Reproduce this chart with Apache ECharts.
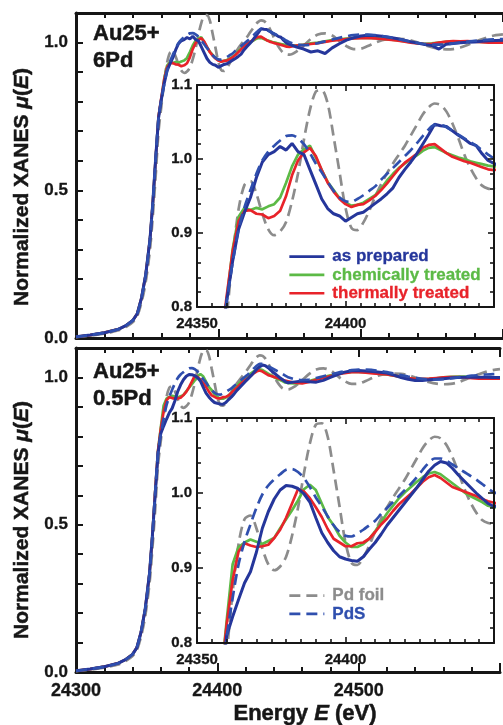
<!DOCTYPE html>
<html>
<head>
<meta charset="utf-8">
<script src="https://cdn.jsdelivr.net/npm/echarts@6/dist/echarts.min.js"></script>
<style>
  html, body { margin: 0; padding: 0; background: #fff; }
  #chart { width: 503px; height: 725px; }
</style>
</head>
<body>
<div id="chart"></div>
<script>
// Photon energy grid (eV) shared by every spectrum
const energy = [
  24300,24310,24320,24330,24335,24340,24343,24346,24349,24352,24354,24356,
  24358,24360,24362,24364,24366,24368,24370,24372,24374,24376,24378,24380,
  24382,24384,24386,24388,24390,24392,24394,24396,24398,24400,24402,24404,
  24406,24408,24410,24412,24414,24416,24418,24420,24422,24424,24426,24428,
  24430,24432,24434,24436,24438,24440,24442,24444,24446,24448,24450,
  24455,24460,24465,24470,24475,24480,24485,24490,24495,24500,24505,24510,
  24515,24520,24525,24530,24535,24540,24545,24550,24555,24560,24565,24570,
  24575,24580,24585,24590,24595,24600
];

// Reference spectra
const pdFoil = [
  0.003,0.008,0.015,0.026,0.037,0.054,0.074,0.120,0.190,0.300,0.415,0.550,
  0.700,0.785,0.868,0.932,0.965,0.970,0.953,0.926,0.905,0.897,0.902,0.915,
  0.943,0.980,1.026,1.066,1.091,1.093,1.075,1.030,0.982,0.934,0.907,0.904,
  0.914,0.930,0.949,0.966,0.981,0.994,1.006,1.018,1.032,1.046,1.060,1.070,
  1.075,1.073,1.064,1.048,1.028,1.006,0.988,0.974,0.964,0.960,0.959,
  0.970,0.990,1.012,1.027,1.031,1.024,1.005,0.988,0.978,0.979,0.988,0.999,
  1.008,1.012,1.013,1.012,1.008,1.000,0.991,0.984,0.979,0.977,0.978,0.983,
  0.992,1.002,1.011,1.019,1.025,1.028
];
const pdS = [
  0.004,0.010,0.018,0.030,0.042,0.060,0.082,0.135,0.215,0.335,0.460,0.610,
  0.745,0.808,0.860,0.905,0.935,0.958,0.980,0.998,1.010,1.018,1.025,1.031,
  1.032,1.028,1.020,1.008,0.994,0.982,0.969,0.957,0.948,0.943,0.942,0.946,
  0.951,0.957,0.963,0.972,0.980,0.988,0.996,1.004,1.012,1.021,1.031,1.040,
  1.046,1.046,1.043,1.038,1.033,1.028,1.023,1.018,1.012,1.006,1.001,
  0.994,0.991,0.993,0.998,1.004,1.010,1.016,1.021,1.025,1.027,1.027,1.025,
  1.022,1.018,1.013,1.008,1.003,0.999,0.995,0.993,0.993,0.994,0.997,1.000,
  1.003,1.006,1.008,1.010,1.011,1.012
];

// Au25 + 6Pd
const pd6Prepared = [
  0.004,0.010,0.018,0.030,0.042,0.060,0.082,0.135,0.215,0.335,0.460,0.610,
  0.745,0.808,0.862,0.905,0.928,0.948,0.975,0.996,1.006,1.010,1.017,1.012,
  1.021,1.010,1.006,0.986,0.966,0.946,0.933,0.926,0.923,0.916,0.921,0.926,
  0.928,0.934,0.940,0.946,0.953,0.961,0.975,0.986,0.996,1.007,1.020,1.033,
  1.047,1.045,1.044,1.038,1.032,1.027,1.021,1.018,1.007,0.998,0.994,
  0.985,0.978,0.968,0.972,0.963,0.982,0.996,1.008,1.016,1.022,1.025,1.024,
  1.021,1.018,1.014,1.009,1.003,0.998,0.993,0.990,0.978,0.994,0.997,0.999,
  1.001,1.002,1.004,1.006,1.007,1.008
];
const pd6Chemical = [
  0.004,0.010,0.018,0.030,0.042,0.060,0.082,0.135,0.215,0.335,0.460,0.610,
  0.750,0.810,0.878,0.922,0.934,0.931,0.934,0.932,0.936,0.939,0.948,0.968,
  0.990,1.006,1.013,1.018,1.002,0.985,0.969,0.958,0.947,0.941,0.937,0.938,
  0.941,0.946,0.951,0.960,0.971,0.980,0.988,0.994,1.000,1.005,1.011,1.015,
  1.016,1.012,1.008,1.005,1.002,1.000,0.997,0.995,0.993,0.991,0.990,
  0.990,0.993,0.997,1.000,1.004,1.008,1.011,1.013,1.015,1.016,1.016,1.015,
  1.013,1.011,1.008,1.005,1.001,0.998,0.996,0.997,1.000,1.002,1.004,1.004,
  1.004,1.003,1.002,1.001,1.001,1.001
];
const pd6Thermal = [
  0.004,0.010,0.018,0.030,0.042,0.060,0.082,0.135,0.215,0.335,0.460,0.610,
  0.750,0.815,0.875,0.916,0.930,0.931,0.926,0.925,0.920,0.923,0.930,0.950,
  0.978,0.998,1.009,1.015,1.004,0.985,0.968,0.956,0.946,0.939,0.935,0.938,
  0.939,0.944,0.950,0.958,0.967,0.977,0.987,0.995,1.001,1.007,1.015,1.019,
  1.020,1.014,1.008,1.003,1.000,0.997,0.995,0.992,0.989,0.986,0.985,
  0.990,0.992,0.995,0.998,1.002,1.006,1.009,1.012,1.014,1.015,1.016,1.014,
  1.012,1.010,1.007,1.004,1.000,0.997,0.995,0.996,1.000,1.003,1.005,1.004,
  1.005,1.003,1.001,1.000,1.000,1.000
];

// Au25 + 0.5Pd
const pd05Prepared = [
  0.004,0.010,0.018,0.030,0.042,0.060,0.082,0.135,0.215,0.335,0.460,0.600,
  0.740,0.810,0.835,0.858,0.880,0.895,0.921,0.953,0.975,0.992,1.004,1.010,
  1.009,1.006,0.999,0.988,0.967,0.947,0.934,0.923,0.915,0.912,0.910,0.909,
  0.915,0.925,0.934,0.945,0.957,0.967,0.977,0.987,0.997,1.007,1.018,1.029,
  1.037,1.042,1.040,1.033,1.024,1.016,1.008,1.000,0.993,0.986,0.982,
  0.985,0.988,0.985,0.984,0.990,1.000,1.010,1.018,1.023,1.024,1.022,1.020,
  1.018,1.015,1.008,1.000,0.994,0.990,0.990,0.992,0.994,0.996,0.998,1.000,
  1.001,1.001,1.001,1.001,1.000,1.000
];
const pd05Chemical = [
  0.004,0.010,0.018,0.030,0.042,0.060,0.082,0.135,0.215,0.335,0.460,0.610,
  0.750,0.830,0.905,0.928,0.934,0.938,0.935,0.932,0.936,0.940,0.953,0.965,
  0.977,0.990,1.005,1.011,1.004,0.986,0.968,0.957,0.943,0.934,0.928,0.928,
  0.932,0.939,0.949,0.961,0.973,0.983,0.993,1.001,1.008,1.015,1.021,1.026,
  1.028,1.025,1.019,1.013,1.007,1.001,0.996,0.992,0.988,0.983,0.981,
  0.980,0.982,0.988,0.995,1.001,1.007,1.012,1.016,1.019,1.019,1.018,1.016,
  1.013,1.010,1.006,1.002,0.998,0.995,0.994,0.995,0.997,1.000,1.002,1.003,
  1.003,1.002,1.000,0.999,0.999,0.999
];
const pd05Thermal = [
  0.004,0.010,0.018,0.030,0.042,0.060,0.082,0.135,0.215,0.335,0.460,0.610,
  0.750,0.825,0.884,0.922,0.933,0.930,0.928,0.929,0.931,0.940,0.951,0.967,
  0.986,1.005,1.002,0.993,0.981,0.968,0.952,0.939,0.934,0.929,0.929,0.933,
  0.934,0.939,0.948,0.958,0.966,0.976,0.985,0.992,0.999,1.007,1.015,1.021,
  1.024,1.020,1.014,1.008,1.005,1.002,0.999,0.996,0.992,0.989,0.987,
  0.982,0.980,0.985,0.992,0.998,1.005,1.010,1.015,1.018,1.018,1.016,1.014,
  1.012,1.010,1.006,1.002,0.998,0.995,0.995,0.996,0.998,1.000,1.001,1.001,
  1.000,0.998,0.996,0.996,0.996,0.996
];

const panels = [
  { label: ['Au25+', '6Pd'], prepared: pd6Prepared, chemical: pd6Chemical, thermal: pd6Thermal },
  { label: ['Au25+', '0.5Pd'], prepared: pd05Prepared, chemical: pd05Chemical, thermal: pd05Thermal }
];

const FONT = '"Liberation Sans", Arial, Helvetica, sans-serif';
const INK = '#161616';
const COLORS = {
  prepared: '#25369b',
  chemical: '#5cba46',
  thermal: '#e8232a',
  foil: '#8c8c8c',
  pds: '#2f4fae'
};

function pairs(values) {
  return energy.map((e, i) => [e, values[i]]);
}

// layout: main frame and inset for each panel
const layout = [
  { main: { left: 76, top: 13, width: 436, height: 325 },
    inset: { left: 197, top: 85, width: 297, height: 222 } },
  { main: { left: 76, top: 348, width: 436, height: 324 },
    inset: { left: 197, top: 418, width: 297, height: 225 } }
];

const grid = [];
const xAxis = [];
const yAxis = [];
const series = [];

function labelFont(size) {
  return { fontSize: size, fontWeight: 'bold', color: INK, fontFamily: FONT,
           textBorderColor: INK, textBorderWidth: 0.3 };
}

layout.forEach((lay, p) => {
  const mainGrid = grid.length;
  grid.push(Object.assign({}, lay.main));
  const insetGrid = grid.length;
  grid.push(Object.assign({ show: true, backgroundColor: '#fff', borderWidth: 0, z: 3 }, lay.inset));

  const isBottom = p === layout.length - 1;

  // main energy axes (bottom with labels on the lower panel, top with ticks only)
  const mainX = xAxis.length;
  ['bottom', 'top'].forEach(pos => {
    xAxis.push({
      type: 'value', gridIndex: mainGrid, position: pos,
      min: 24300, max: 24600, interval: 100,
      axisLine: { onZero: false, lineStyle: { color: INK, width: 3 } },
      axisTick: { inside: true, length: 9, lineStyle: { color: INK, width: 2 } },
      minorTick: { show: true, splitNumber: 5, length: 5, lineStyle: { color: INK, width: 2 } },
      splitLine: { show: false },
      axisLabel: Object.assign({
        show: pos === 'bottom' && isBottom, margin: 10,
        formatter: v => (v >= 24600 ? '' : String(v))
      }, labelFont(18))
    });
  });
  const mainY = yAxis.length;
  yAxis.push({
    type: 'value', gridIndex: mainGrid, position: 'left',
    min: 0, max: 1.1, interval: 0.1,
    axisLine: { onZero: false, lineStyle: { color: INK, width: 3 } },
    axisTick: { inside: true, length: 7, lineStyle: { color: INK, width: 2 } },
    splitLine: { show: false },
    axisLabel: Object.assign({
      margin: 8,
      formatter: v => (Math.abs(v * 2 - Math.round(v * 2)) < 1e-6 ? v.toFixed(1) : '')
    }, labelFont(17))
  });

  // inset axes, boxed with inward ticks on all sides
  const insetX = xAxis.length;
  ['bottom', 'top'].forEach(pos => {
    xAxis.push({
      type: 'value', gridIndex: insetGrid, position: pos, z: 6,
      min: 24350, max: 24450, interval: 50,
      axisLine: { onZero: false, lineStyle: { color: INK, width: 2 } },
      axisTick: { inside: true, length: 6, lineStyle: { color: INK, width: 1.6 } },
      minorTick: { show: true, splitNumber: 10, length: 4, lineStyle: { color: INK, width: 1.6 } },
      splitLine: { show: false },
      axisLabel: Object.assign({
        show: pos === 'bottom', margin: 9,
        formatter: v => (v >= 24450 ? '' : String(v))
      }, labelFont(15))
    });
  });
  const insetY = yAxis.length;
  ['left', 'right'].forEach(pos => {
    yAxis.push({
      type: 'value', gridIndex: insetGrid, position: pos, z: 6,
      min: 0.8, max: 1.1, interval: 0.1,
      axisLine: { onZero: false, lineStyle: { color: INK, width: 2 } },
      axisTick: { inside: true, length: 6, lineStyle: { color: INK, width: 1.6 } },
      minorTick: { show: true, splitNumber: 5, length: 4, lineStyle: { color: INK, width: 1.6 } },
      splitLine: { show: false },
      axisLabel: Object.assign({
        show: pos === 'left', margin: 5,
        formatter: v => v.toFixed(1)
      }, labelFont(15))
    });
  });

  const panel = panels[p];
  const curves = [
    { name: 'Pd foil', data: pdFoil, color: COLORS.foil, dash: [11, 6], smooth: 0.3 },
    { name: 'chemically treated', data: panel.chemical, color: COLORS.chemical },
    { name: 'thermally treated', data: panel.thermal, color: COLORS.thermal },
    { name: 'as prepared', data: panel.prepared, color: COLORS.prepared, width: 3 },
    { name: 'PdS', data: pdS, color: COLORS.pds, dash: [11, 6], smooth: 0.3 }
  ];
  [[mainX, mainY, 2], [insetX, insetY, 5]].forEach(([xi, yi, z]) => {
    curves.forEach(c => {
      series.push({
        type: 'line', name: c.name, xAxisIndex: xi, yAxisIndex: yi, z: z,
        data: pairs(c.data), showSymbol: false, symbol: 'none',
        smooth: c.smooth || false, animation: false, clip: true,
        lineStyle: { color: c.color, width: c.width || 2.7, type: c.dash || 'solid', cap: 'butt' },
        itemStyle: { color: c.color }
      });
    });
  });
});

function legendBlock(top, items) {
  return {
    orient: 'vertical', left: 283, top: top, z: 8,
    itemWidth: 35, itemHeight: 12, itemGap: 1,
    selectedMode: false,
    itemStyle: { opacity: 0 },
    lineStyle: { width: 2.7 },
    textStyle: { fontSize: 17, fontWeight: 'bold', fontFamily: FONT, lineHeight: 15,
                 padding: [0, 0, 0, 3], textBorderWidth: 0.3 },
    data: items.map(([name, color]) => ({ name, textStyle: { color, textBorderColor: color } }))
  };
}

const titleStyle = { fontSize: 21, fontWeight: 'bold', fontFamily: FONT, fill: INK, stroke: INK, lineWidth: 0.5 };
const titleRich = {
  n: titleStyle,
  i: Object.assign({}, titleStyle, { fontStyle: 'italic' })
};

function panelText(x, y, text) {
  return {
    type: 'text', x: x, y: y, z: 10,
    style: { text: text, font: 'bold 22px ' + FONT, fill: INK, stroke: INK, lineWidth: 0.5,
             textAlign: 'left', textVerticalAlign: 'middle' }
  };
}

const xTitleStyle = Object.assign({}, titleStyle, { fontSize: 22 });

const graphic = [
  panelText(93, 34, panels[0].label[0]),
  panelText(93, 61, panels[0].label[1]),
  panelText(93, 372, panels[1].label[0]),
  panelText(93, 399, panels[1].label[1]),
  {
    type: 'text', x: 22, y: 187, rotation: Math.PI / 2, z: 10,
    style: { text: '{n|Normalized XANES }{i|μ}{n|(}{i|E}{n|)}', rich: titleRich, textAlign: 'center', textVerticalAlign: 'middle' }
  },
  {
    type: 'text', x: 22, y: 520, rotation: Math.PI / 2, z: 10,
    style: { text: '{n|Normalized XANES }{i|μ}{n|(}{i|E}{n|)}', rich: titleRich, textAlign: 'center', textVerticalAlign: 'middle' }
  },
  {
    type: 'text', x: 305, y: 714, z: 10,
    style: {
      text: '{n|Energy }{i|E}{n| (eV)}',
      rich: { n: xTitleStyle, i: Object.assign({}, xTitleStyle, { fontStyle: 'italic' }) },
      textAlign: 'center', textVerticalAlign: 'middle'
    }
  }
];

const chart = echarts.init(document.getElementById('chart'), null, { renderer: 'canvas' });
chart.setOption({
  animation: false,
  backgroundColor: '#fff',
  grid: grid,
  xAxis: xAxis,
  yAxis: yAxis,
  legend: [
    legendBlock(243, [['as prepared', COLORS.prepared], ['chemically treated', COLORS.chemical], ['thermally treated', COLORS.thermal]]),
    legendBlock(582, [['Pd foil', COLORS.foil], ['PdS', COLORS.pds]])
  ],
  graphic: graphic,
  series: series
});
</script>
</body>
</html>
